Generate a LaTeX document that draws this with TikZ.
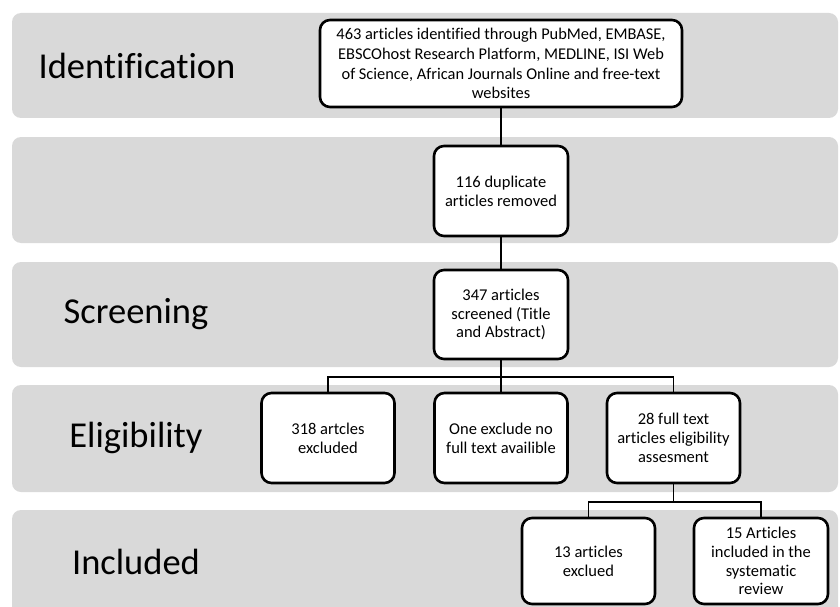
\documentclass[tikz,border=0pt]{standalone}
\usepackage{fontspec}
\setmainfont{Carlito}[Ligatures=CommonOff]
\definecolor{bandgray}{RGB}{217,217,217}
\begin{document}
\begin{tikzpicture}[x=1pt,y=-1pt,
  band/.style={fill=bandgray,draw=none,rounded corners=9pt},
  phase/.style={font=\fontsize{36.5}{40}\selectfont,anchor=center},
  flowbox/.style={draw=black,fill=white,line width=2.6pt,rounded corners=10pt,
    align=center,inner sep=0pt,font=\fontsize{16.5}{18.8}\selectfont},
  link/.style={line width=1.8pt,draw=black}]
\clip (0,0) rectangle (840,607);
\fill[white] (0,0) rectangle (840,607);
% bands
\path[band] (12,13) rectangle (838,118);
\path[band] (12,137) rectangle (838,243);
\path[band] (12,262) rectangle (838,367);
\path[band] (12,385) rectangle (838,492);
\path[band] (12,510) rectangle (838,625);
% phase labels
\node[phase] (pid) at (137,66) {Identification};
\node[phase] (psc) at (136,314) {Screening};
\node[phase] (pel) at (136,438) {Eligibility};
\node[phase] (pin) at (136,562) {Included};
% boxes
\node[flowbox,minimum width=362pt,minimum height=87pt,font=\fontsize{16.4}{19.8}\selectfont] (b1) at (501,63.5)
  {463 articles identified through PubMed, EMBASE,\\EBSCOhost Research Platform, MEDLINE, ISI Web\\of Science, African Journals Online and free-text\\websites};
\node[flowbox,minimum width=134pt,minimum height=90pt] (b2) at (501,191)
  {116 duplicate\\articles removed};
\node[flowbox,minimum width=134pt,minimum height=89pt] (b3) at (501,314.5)
  {347 articles\\screened (Title\\and Abstract)};
\node[flowbox,minimum width=133pt,minimum height=90pt] (b4) at (328,438)
  {318 artcles\\excluded};
\node[flowbox,minimum width=133pt,minimum height=90pt] (b5) at (501,438)
  {One exclude no\\full text availible};
\node[flowbox,minimum width=133pt,minimum height=90pt] (b6) at (673.5,438)
  {28 full text\\articles eligibility\\assesment};
\node[flowbox,minimum width=133pt,minimum height=86pt] (b7) at (588.5,561)
  {13 articles\\exclued};
\node[flowbox,minimum width=134pt,minimum height=86pt] (b8) at (761,561)
  {15 Articles\\included in the\\systematic\\review};
% junctions
\coordinate (j1) at (501,377);
\coordinate (j2) at (673.5,502);
% connectors
\draw[link] (b1.south) -- (b2.north);
\draw[link] (b2.south) -- (b3.north);
\draw[link] (b3.south) -- (j1);
\draw[link] (b4.north) |- (j1) -| (b6.north);
\draw[link] (j1) -- (b5.north);
\draw[link] (b6.south) -- (j2);
\draw[link] (b7.north) |- (j2) -| (b8.north);
\end{tikzpicture}
\end{document}
